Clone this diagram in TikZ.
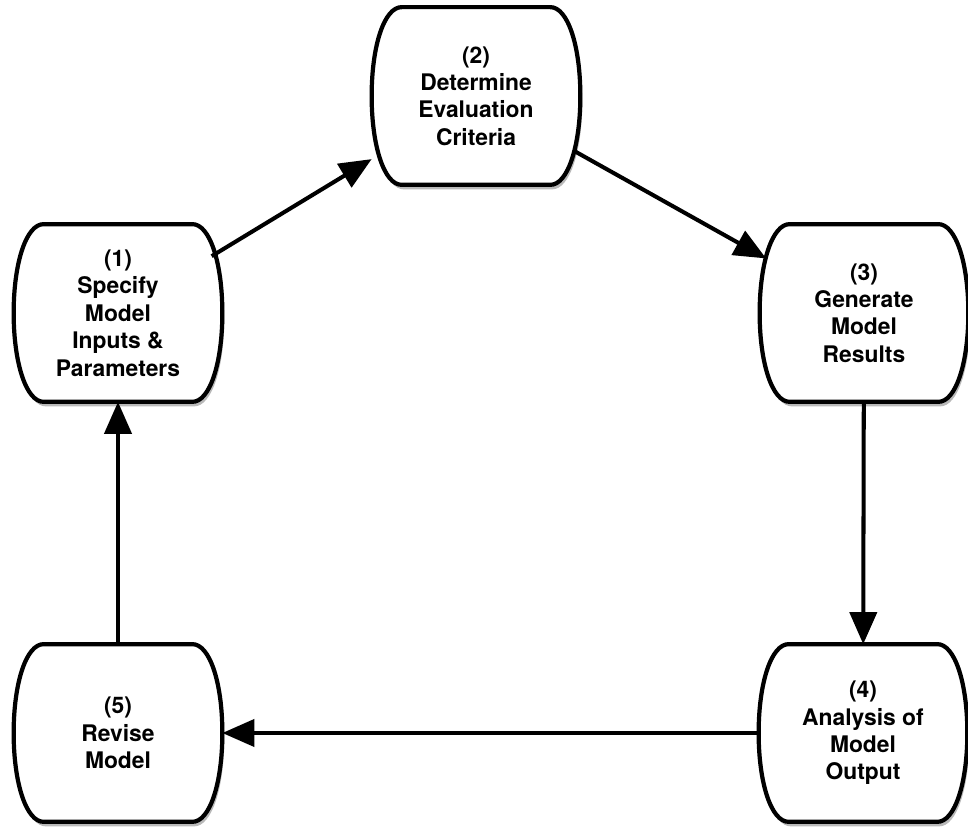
\documentclass[tikz,border=0pt]{standalone}
\usepackage{fontspec}
\setmainfont{TeX Gyre Heros}
\usetikzlibrary{arrows.meta}
\usetikzlibrary{calc}
\usetikzlibrary{backgrounds}
\tikzset{stage/.style = {minimum width=4.16cm, minimum height=3.54cm, inner sep=0pt,
                         align=center, font=\fontsize{13}{15.6}\selectfont\bfseries},
         flow/.style = {line width=2.3pt, -{Triangle[length=0.64cm, width=0.54cm]}}}
\newcommand{\barrel}[2]{%
  \draw [#2] ($(#1.north west)+(0.6,0)$) -- ($(#1.north east)+(-0.6,0)$)
    .. controls ($(#1.north east)+(-0.25,0)$) and ($(#1.east)+(0,1)$) .. (#1.east)
    .. controls ($(#1.east)+(0,-1)$) and ($(#1.south east)+(-0.25,0)$) .. ($(#1.south east)+(-0.6,0)$)
    -- ($(#1.south west)+(0.6,0)$)
    .. controls ($(#1.south west)+(0.25,0)$) and ($(#1.west)+(0,-1)$) .. (#1.west)
    .. controls ($(#1.west)+(0,1)$) and ($(#1.north west)+(0.25,0)$) .. cycle;}

\begin{document}
\begin{tikzpicture}
    \useasboundingbox (0, 0) rectangle (19.36, -16.64);

    \node [stage] (spec) at (2.36, -6.26) {(1)\\Specify\\Model\\Inputs \&\\Parameters};
    \node [stage] (crit) at (9.52, -1.92) {(2)\\Determine\\Evaluation\\Criteria};
    \node [stage] (gen) at (17.28, -6.26) {(3)\\Generate\\Model\\Results};
    \node [stage] (anal) at (17.26, -14.66) {(4)\\Analysis of\\Model\\Output};
    \node [stage] (rev) at (2.36, -14.66) {(5)\\Revise\\Model};

    \begin{scope}[on background layer]
      \fill [white] (0, 0) rectangle (19.36, -16.64);
      \foreach \n in {spec, crit, gen, anal, rev} {
        \barrel{\n}{fill=gray!55, draw=none, transform canvas={shift={(0.04,-0.09)}}}
        \barrel{\n}{fill=white, line width=2.4pt}
      }
    \end{scope}

    \draw [flow, shorten <=-0.25cm] (spec) -- (crit);
    \draw [flow, shorten <=-0.15cm, shorten >=-0.15cm] (crit) -- (gen);
    \draw [flow] (gen) -- (anal);
    \draw [flow] (anal.west) -- (rev.east);
    \draw [flow] (rev) -- (spec);
  \end{tikzpicture}
\end{document}
